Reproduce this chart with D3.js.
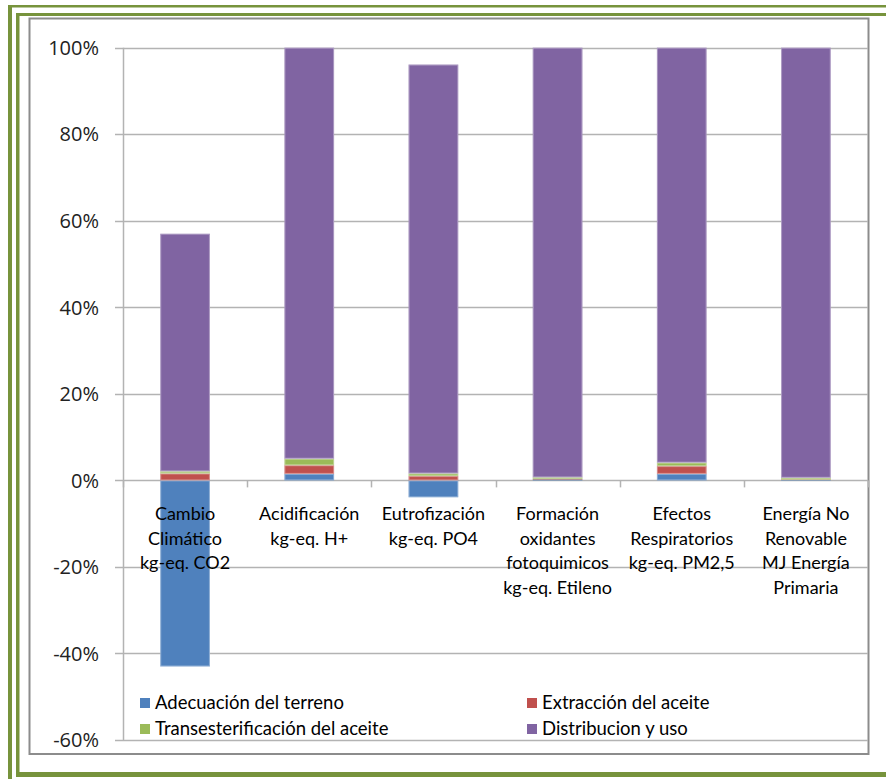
<!DOCTYPE html>
<html>
<head>
<meta charset="utf-8">
<script src="https://cdn.jsdelivr.net/npm/d3@7"></script>
<style>
  html, body { margin: 0; padding: 0; background: #fff; }
  svg { display: block; }
</style>
</head>
<body>
<svg id="chart" width="886" height="779"></svg>
<script>
// ---- data ----
const categories = [
  ["Cambio", "Climático", "kg-eq. CO2"],
  ["Acidificación", "kg-eq. H+"],
  ["Eutrofización", "kg-eq. PO4"],
  ["Formación", "oxidantes", "fotoquimicos", "kg-eq. Etileno"],
  ["Efectos", "Respiratorios", "kg-eq. PM2,5"],
  ["Energía No", "Renovable", "MJ Energía", "Primaria"]
];
const seriesNames = ["Adecuación del terreno", "Extracción del aceite", "Transesterificación del aceite", "Distribucion y uso"];
const adecuacion   = [-43.0, 1.5, -3.9, 0.2, 1.5, 0.1];
const extraccion   = [1.6, 2.0, 1.0, 0.1, 1.8, 0.1];
const transester   = [0.5, 1.5, 0.6, 0.4, 0.8, 0.4];
const distribucion = [54.9, 95.0, 94.5, 99.3, 95.9, 99.4];
const yTicks = [-60, -40, -20, 0, 20, 40, 60, 80, 100];
const colors = ["#4F81BD", "#C0504D", "#9BBB59", "#8064A2"];

const seriesValues = [adecuacion, extraccion, transester, distribucion];

const svg = d3.select("#chart");
const green = "#77933C";

// ---- frame ----
svg.append("rect").attr("x", 8).attr("y", 5).attr("width", 878).attr("height", 2.5).attr("fill", green);
svg.append("rect").attr("x", 8).attr("y", 5).attr("width", 4).attr("height", 774).attr("fill", green);
svg.append("rect").attr("x", 16).attr("y", 13).attr("width", 870).attr("height", 3).attr("fill", green);
svg.append("rect").attr("x", 16).attr("y", 13).attr("width", 3.5).attr("height", 764).attr("fill", green);
svg.append("rect").attr("x", 16).attr("y", 772).attr("width", 870).attr("height", 5).attr("fill", green);
// chart area border
svg.append("rect").attr("x", 29.5).attr("y", 18.5).attr("width", 839).attr("height", 735.5)
  .attr("fill", "#fff").attr("stroke", "#8c8c8c").attr("stroke-width", 2);

// ---- scales ----
const plotL = 123, plotR = 868, plotT = 47.7, plotB = 740;
const x = d3.scaleBand().domain(d3.range(categories.length)).range([plotL, plotR]).paddingInner(0.6).paddingOuter(0.3);
const xOuter = d3.scaleBand().domain(d3.range(categories.length)).range([plotL, plotR]);
const y = d3.scaleLinear().domain([-60, 100]).range([plotB, plotT]);

// gridlines
svg.append("g").selectAll("line").data(yTicks).join("line")
  .attr("x1", plotL - 8).attr("x2", plotR)
  .attr("y1", d => Math.round(y(d)) + 0.5).attr("y2", d => Math.round(y(d)) + 0.5)
  .attr("stroke", "#b3b3b3").attr("stroke-width", 1.5);

// y axis line
svg.append("line").attr("x1", plotL + 0.5).attr("x2", plotL + 0.5).attr("y1", plotT).attr("y2", plotB)
  .attr("stroke", "#b3b3b3").attr("stroke-width", 1.5);

// y tick labels
svg.append("g").selectAll("text").data(yTicks).join("text")
  .attr("x", 99).attr("y", d => y(d)).attr("dy", "0.36em")
  .attr("text-anchor", "end")
  .attr("font-family", "'Open Sans', sans-serif").attr("font-size", 20)
  .attr("fill", "#222")
  .text(d => d + "%");

// ---- stacked bars ----
const rects = [];
categories.forEach((c, i) => {
  let pos = 0, neg = 0;
  seriesValues.forEach((vals, s) => {
    const v = vals[i];
    let y0, y1;
    if (v >= 0) { y0 = pos; y1 = pos + v; pos = y1; }
    else { y0 = neg; y1 = neg + v; neg = y1; }
    rects.push({ i, s, y0, y1 });
  });
});
svg.append("g").selectAll("rect").data(rects).join("rect")
  .attr("x", d => x(d.i))
  .attr("width", x.bandwidth())
  .attr("y", d => y(Math.max(d.y0, d.y1)))
  .attr("height", d => Math.abs(y(d.y0) - y(d.y1)))
  .attr("fill", d => colors[d.s]);
// light outline around each bar
svg.append("g").selectAll("rect").data(rects).join("rect")
  .attr("x", d => x(d.i) + 0.5)
  .attr("width", x.bandwidth() - 1)
  .attr("y", d => y(Math.max(d.y0, d.y1)) + 0.5)
  .attr("height", d => Math.max(0, Math.abs(y(d.y0) - y(d.y1)) - 1))
  .attr("fill", "none").attr("stroke", "#ffffff").attr("stroke-opacity", 0.35).attr("stroke-width", 1);

// category tick marks on zero line
svg.append("g").selectAll("line").data(d3.range(categories.length + 1)).join("line")
  .attr("x1", d => Math.round(plotL + d * xOuter.step()) + 0.5)
  .attr("x2", d => Math.round(plotL + d * xOuter.step()) + 0.5)
  .attr("y1", y(0)).attr("y2", y(0) + 7)
  .attr("stroke", "#b3b3b3").attr("stroke-width", 1.5);

// category labels
const catG = svg.append("g");
categories.forEach((lines, i) => {
  const t = catG.append("text")
    .attr("text-anchor", "middle")
    .attr("font-family", "Lato, sans-serif").attr("font-size", 18)
    .attr("fill", "#000");
  lines.forEach((ln, k) => {
    t.append("tspan").attr("x", xOuter(i) + xOuter.bandwidth() / 2)
      .attr("y", 520 + k * 24.5).text(ln);
  });
});

// ---- legend ----
const legendPos = [
  { x: 140, y: 703 }, { x: 527, y: 703 },
  { x: 140, y: 729 }, { x: 527, y: 729 }
];
const lg = svg.append("g");
seriesNames.forEach((name, s) => {
  const p = legendPos[s];
  lg.append("rect").attr("x", p.x).attr("y", p.y - 5).attr("width", 10).attr("height", 10).attr("fill", colors[s]);
  lg.append("text").attr("x", p.x + 15).attr("y", p.y).attr("dy", "0.35em")
    .attr("font-family", "Lato, sans-serif").attr("font-size", 18.5)
    .attr("fill", "#000").text(name);
});
</script>
</body>
</html>
